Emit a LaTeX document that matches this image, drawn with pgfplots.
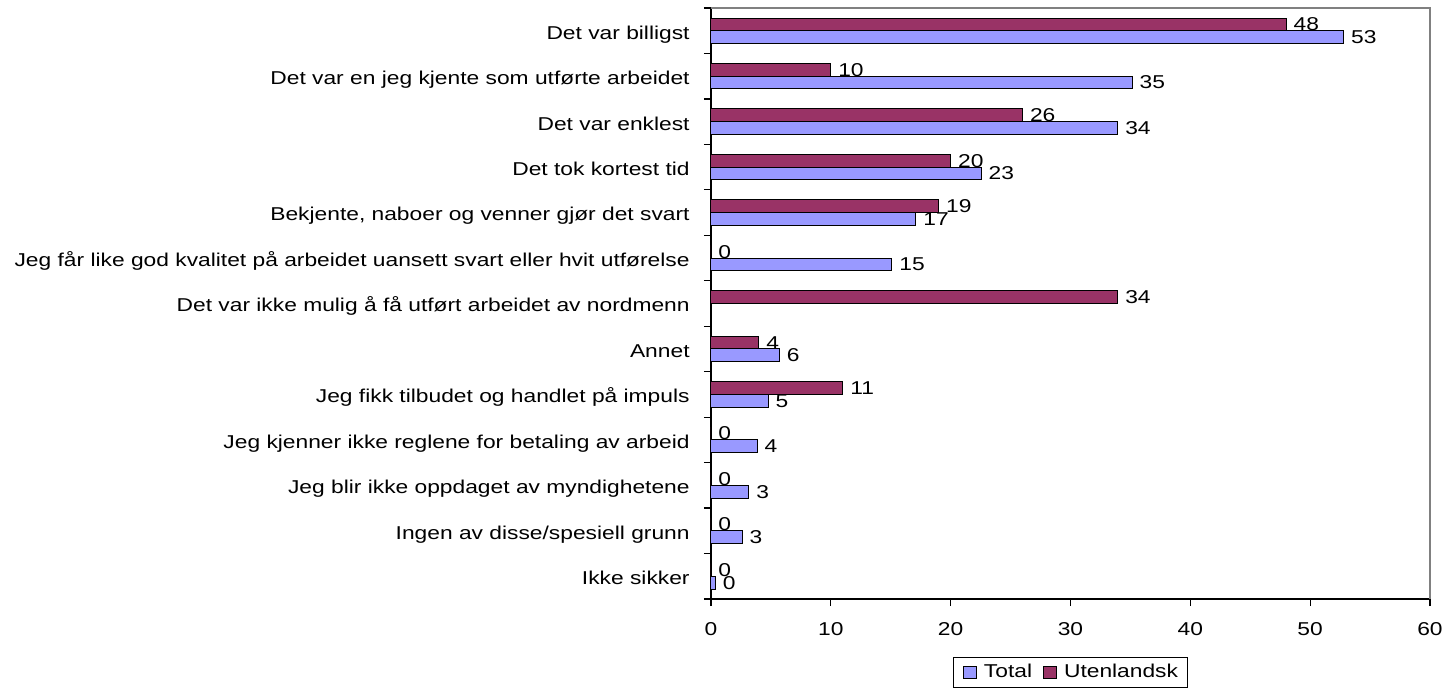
\documentclass[border=0pt]{standalone}
\usepackage{fontspec}
\setmainfont{Liberation Sans}[FakeStretch=1.225]
\usepackage{pgfplots}
\pgfplotsset{compat=1.18}
\definecolor{tot}{HTML}{9999FF}
\definecolor{ute}{HTML}{993366}
\begin{document}
\begin{tikzpicture}[font=\fontsize{9.3pt}{11pt}\selectfont]
\useasboundingbox (-355.5pt,-44pt) rectangle (366pt,299.5pt);
\begin{axis}[
  at={(0,0)}, anchor=south west,
  scale only axis, width=359.5pt, height=295.5pt,
  xmin=0, xmax=60, ymin=-0.5, ymax=12.5,
  xtick={0,10,...,60},
  ytick={-0.5,0.5,...,12.5},
  y tick label as interval,
  yticklabels={Ikke sikker,Ingen av disse/spesiell grunn,Jeg blir ikke oppdaget av myndighetene,Jeg kjenner ikke reglene for betaling av arbeid,Jeg fikk tilbudet og handlet på impuls,Annet,Det var ikke mulig å få utført arbeidet av nordmenn,Jeg får like god kvalitet på arbeidet uansett svart eller hvit utførelse,{Bekjente, naboer og venner gjør det svart\ },{Det tok kortest tid\ },Det var enklest,Det var en jeg kjente som utførte arbeidet,Det var billigst},
  axis x line*=bottom, axis y line*=left,
  axis line style={black, line width=0.6pt},
  tick align=outside, major tick length=3.5pt,
  tick style={black, line width=0.6pt},
  /pgf/number format/assume math mode=true,
  xticklabel style={inner sep=0pt, anchor=north, yshift=-8pt},
  yticklabel style={inner sep=0pt, anchor=base east, xshift=-7pt, yshift=-4.2pt},
  clip=false,
  xbar, bar width=0.28, bar shift=0pt,
  nodes near coords, point meta=explicit symbolic,
  every node near coord/.append style={inner sep=0pt, anchor=west, xshift=3.5pt, black},
  legend style={at={(0.5,-0.098)}, anchor=north, legend columns=2, draw=black, line width=0.5pt,
    inner xsep=4.5pt, inner ysep=3.4pt, nodes={inner sep=0pt},
    /tikz/every odd column/.append style={column sep=3.5pt},
    /tikz/every even column/.append style={column sep=5.5pt}},
  legend image code/.code={\draw[#1, draw=black, line width=0.5pt] (0pt,-3.2pt) rectangle (6.5pt,3.2pt);},
]
\addplot[fill=tot, draw=black, line width=0.5pt] coordinates {
 (52.8,11.86) [53]
 (35.15,10.86) [35]
 (33.95,9.86) [34]
 (22.55,8.86) [23]
 (17.1,7.86) [17]
 (15.1,6.86) [15]
 (5.7,4.86) [6]
 (4.77,3.86) [5]
 (3.85,2.86) [4]
 (3.17,1.86) [3]
 (2.6,0.86) [3]
 (0.36,-0.14) [0]
};
\addlegendentry{Total}
\addplot[fill=ute, draw=black, line width=0.5pt] coordinates {
 (48,12.14) [48]
 (10,11.14) [10]
 (26,10.14) [26]
 (20,9.14) [20]
 (19,8.14) [19]
 (0,7.14) [0]
 (33.95,6.14) [34]
 (4,5.14) [4]
 (11,4.14) [11]
 (0,3.14) [0]
 (0,2.14) [0]
 (0,1.14) [0]
 (0,0.14) [0]
};
\addlegendentry{Utenlandsk}
\draw[gray, line width=0.6pt] (rel axis cs:0,1) -- (rel axis cs:1,1) -- (rel axis cs:1,0);
\end{axis}
\end{tikzpicture}
\end{document}
